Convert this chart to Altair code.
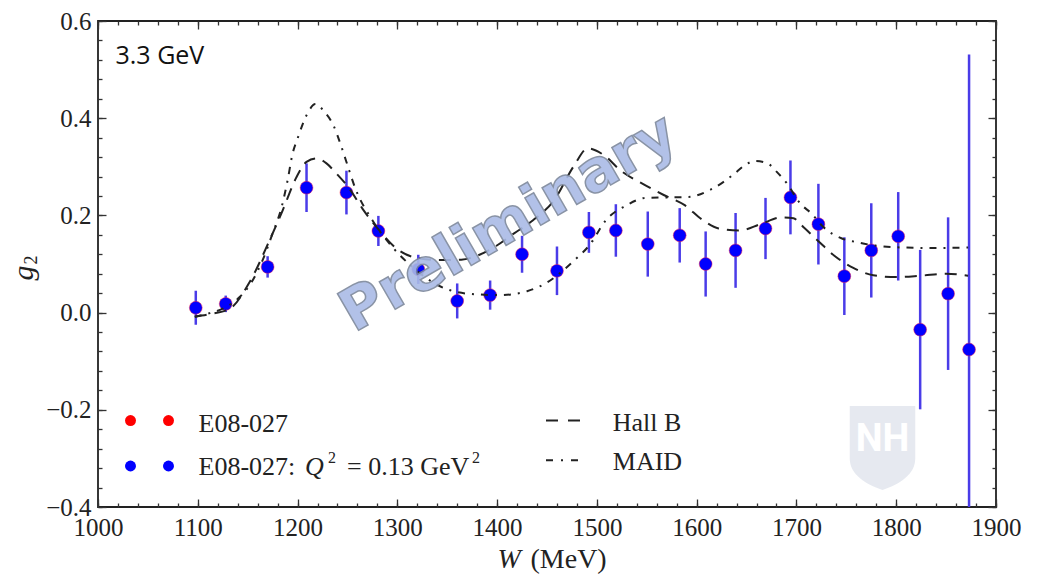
import altair as alt
import pandas as pd

W_DATA = [1098, 1128, 1170, 1209, 1249, 1281, 1321, 1360, 1393, 1425, 1460, 1492, 1519,
          1551, 1583, 1609, 1639, 1669, 1694, 1722, 1748, 1775, 1802, 1824, 1852, 1873]
G_DATA = [0.010, 0.018, 0.094, 0.257, 0.247, 0.168, 0.089, 0.024, 0.036, 0.120, 0.086, 0.165, 0.169,
          0.141, 0.159, 0.100, 0.128, 0.173, 0.237, 0.182, 0.075, 0.128, 0.157, -0.035, 0.039, -0.076]
G_ERR = [0.035, 0.017, 0.022, 0.050, 0.045, 0.031, 0.030, 0.036, 0.030, 0.038, 0.050, 0.042, 0.054,
         0.067, 0.056, 0.067, 0.077, 0.063, 0.076, 0.083, 0.080, 0.097, 0.091, 0.164, 0.157, 0.607]

HALLB_W = [1097, 1112, 1132, 1152, 1172, 1185, 1199, 1209, 1219, 1229, 1239, 1252, 1265, 1282, 1299,
           1315, 1341, 1364, 1381, 1399, 1417, 1436, 1457, 1477, 1491, 1507, 1524, 1546, 1567, 1588,
           1605, 1622, 1643, 1664, 1685, 1697, 1708, 1722, 1738, 1757, 1777, 1800, 1825, 1850, 1872]
HALLB_G = [-0.008, -0.003, 0.008, 0.063, 0.149, 0.210, 0.279, 0.310, 0.317, 0.307, 0.286, 0.255, 0.214,
           0.169, 0.132, 0.115, 0.108, 0.109, 0.118, 0.137, 0.163, 0.190, 0.231, 0.302, 0.338, 0.324,
           0.292, 0.265, 0.242, 0.221, 0.192, 0.173, 0.169, 0.182, 0.196, 0.194, 0.174, 0.147, 0.117,
           0.092, 0.077, 0.073, 0.076, 0.080, 0.076]

MAID_W = [1097, 1112, 1125, 1142, 1154, 1165, 1175, 1184, 1190, 1195, 1200, 1209, 1218, 1227, 1236,
          1244, 1249, 1258, 1275, 1295, 1315, 1341, 1370, 1403, 1430, 1450, 1476, 1493, 1509, 1529,
          1549, 1571, 1592, 1614, 1627, 1638, 1648, 1659, 1671, 1681, 1690, 1704, 1715, 1727, 1745,
          1760, 1779, 1805, 1837, 1872]
MAID_G = [-0.009, -0.001, 0.008, 0.032, 0.063, 0.108, 0.163, 0.217, 0.272, 0.327, 0.358, 0.406, 0.429,
          0.413, 0.385, 0.341, 0.310, 0.255, 0.190, 0.135, 0.094, 0.056, 0.039, 0.036, 0.044, 0.062,
          0.105, 0.140, 0.190, 0.220, 0.236, 0.237, 0.238, 0.253, 0.269, 0.286, 0.303, 0.312, 0.307,
          0.288, 0.267, 0.224, 0.204, 0.176, 0.153, 0.145, 0.138, 0.134, 0.133, 0.134]

X_MAJOR = [1000, 1100, 1200, 1300, 1400, 1500, 1600, 1700, 1800, 1900]
Y_MAJOR = [-0.4, -0.2, 0.0, 0.2, 0.4, 0.6]
X_MINOR = list(range(1000, 1901, 20))
Y_MINOR = [-0.4, -0.36, -0.32, -0.28, -0.24, -0.2, -0.16, -0.12, -0.08, -0.04, 0.0, 0.04, 0.08,
           0.12, 0.16, 0.2, 0.24, 0.28, 0.32, 0.36, 0.4, 0.44, 0.48, 0.52, 0.56, 0.6]

SERIF = "Liberation Serif"
INK = "#222222"

pts = pd.DataFrame({"W": W_DATA, "g": G_DATA,
                    "lo": [g - e for g, e in zip(G_DATA, G_ERR)],
                    "hi": [g + e for g, e in zip(G_DATA, G_ERR)]})
hallb = pd.DataFrame({"W": HALLB_W, "g": HALLB_G})
maid = pd.DataFrame({"W": MAID_W, "g": MAID_G})
one = pd.DataFrame({"k": [0]})

xs = alt.Scale(domain=[1000, 1900], nice=False, zero=False)
ys = alt.Scale(domain=[-0.4, 0.6], nice=False, zero=False)


def ax(orient, values, major, labels, fmt, pad=7):
    L = 8 if major else 4
    kw = dict(orient=orient, values=values, tickSize=L, offset=-L, domain=False, grid=False,
              labels=labels, title=None, tickColor="#333333", tickWidth=1.3, ticks=True)
    if labels:
        kw.update(labelFont=SERIF, labelFontSize=25, labelColor=INK, labelPadding=pad,
                  labelFlush=False, labelOverlap=False, format=fmt)
    return alt.Axis(**kw)


errbars = alt.Chart(pts).mark_rule(color="#4a3ce8", strokeWidth=2.5, clip=True).encode(
    x=alt.X("W:Q", scale=xs, axis=ax("bottom", X_MAJOR, True, True, "d", pad=8)),
    y=alt.Y("lo:Q", scale=ys, axis=ax("left", Y_MAJOR, True, True, ".1f", pad=7)),
    y2="hi:Q",
)

points = alt.Chart(pts).mark_circle(size=165, color="#0000ff", opacity=1, stroke="#ff2040",
                                    strokeWidth=0.8, strokeOpacity=0.6).encode(
    x=alt.X("W:Q", scale=xs, axis=ax("bottom", X_MINOR, False, False, "d")),
    y=alt.Y("g:Q", scale=ys, axis=ax("left", Y_MINOR, False, False, ".1f")),
)

hall_line = alt.Chart(hallb).mark_line(color=INK, strokeWidth=2, strokeDash=[12, 8],
                                       interpolate="monotone").encode(
    x=alt.X("W:Q", scale=xs, axis=ax("top", X_MAJOR, True, False, "d")),
    y=alt.Y("g:Q", scale=ys, axis=ax("right", Y_MAJOR, True, False, ".1f")),
)

maid_line = alt.Chart(maid).mark_line(color=INK, strokeWidth=2, strokeDash=[7, 7, 2, 7],
                                      interpolate="monotone").encode(
    x=alt.X("W:Q", scale=xs, axis=ax("top", X_MINOR, False, False, "d")),
    y=alt.Y("g:Q", scale=ys, axis=ax("right", Y_MINOR, False, False, ".1f")),
)


def txt(text, x, y, size=26, font=SERIF, style="normal", weight="normal", align="left",
        baseline="alphabetic", angle=0, color=INK):
    return alt.Chart(one).mark_text(text=text, font=font, fontSize=size, fontStyle=style,
                                    fontWeight=weight, align=align, baseline=baseline,
                                    angle=angle, color=color).encode(
        x=alt.value(x), y=alt.value(y))


def dot(x, y, color):
    return alt.Chart(one).mark_circle(size=120, color=color, opacity=1).encode(
        x=alt.value(x), y=alt.value(y))


def sample(y, dash):
    return alt.Chart(one).mark_rule(color=INK, strokeWidth=2, strokeDash=dash).encode(
        x=alt.value(448), x2=alt.value(482), y=alt.value(y))


SHIELD = ("M -0.78 -1 L 0.78 -1 L 0.78 0.25 C 0.78 0.62 0.42 0.86 0 1 "
          "C -0.42 0.86 -0.78 0.62 -0.78 0.25 Z")
shield = alt.Chart(one).mark_point(shape=SHIELD, size=84 * 84, filled=True, fill="#e6e9f0",
                                   opacity=1, strokeWidth=0).encode(
    x=alt.value(784.5), y=alt.value(427))
nh = txt("NH", 784.5, 419, size=38, font="Roboto", weight="bold", align="center",
         baseline="middle", color="#ffffff")

watermark = alt.Chart(one).mark_text(
    text="Preliminary", font="DejaVu Sans", fontWeight="bold", fontSize=58, angle=330,
    fill="#aabbe6", stroke="#7d889c", strokeWidth=1.5, opacity=0.9,
    align="center", baseline="middle").encode(x=alt.value(411), y=alt.value(203))

layers = [
    errbars, points, hall_line, maid_line,
    shield, nh,
    # legend
    dot(32.5, 399.6, "#ff0000"), dot(70.5, 399.6, "#ff0000"),
    dot(32.5, 445, "#0000ff"), dot(70.5, 445, "#0000ff"),
    txt("E08-027", 100.5, 410.5),
    txt("E08-027:", 100.5, 453.8),
    txt("Q", 207, 453.8, style="italic"),
    txt("2", 230, 442, size=16),
    txt("= 0.13 GeV", 249, 453.8),
    txt("2", 374, 442, size=16),
    sample(399.6, [12, 10]),
    sample(439.3, [7, 8, 2, 8]),
    txt("Hall B", 514.8, 410),
    txt("MAID", 514.8, 449.3),
    # annotations / titles
    txt("3.3 GeV", 17.5, 43, size=25, font="Open Sans", color="#111111"),
    txt("W", 399.5, 547, size=28, style="italic"),
    txt("(MeV)", 432.5, 547, size=28),
    txt("g", -74, 252, size=30, style="italic", align="center", baseline="middle", angle=270),
    txt("2", -66, 239, size=18, align="center", baseline="middle", angle=270),
    watermark,
]

chart = alt.layer(*layers).resolve_axis(x="independent", y="independent").properties(
    width=898, height=486,
    autosize=alt.AutoSizeParams(type="none"),
    padding={"left": 98, "top": 21, "right": 42, "bottom": 69},
    background="white",
).configure_view(stroke="#222222", strokeWidth=1.8)

chart.save("out.html", embed_options={"renderer": "svg", "actions": False})
